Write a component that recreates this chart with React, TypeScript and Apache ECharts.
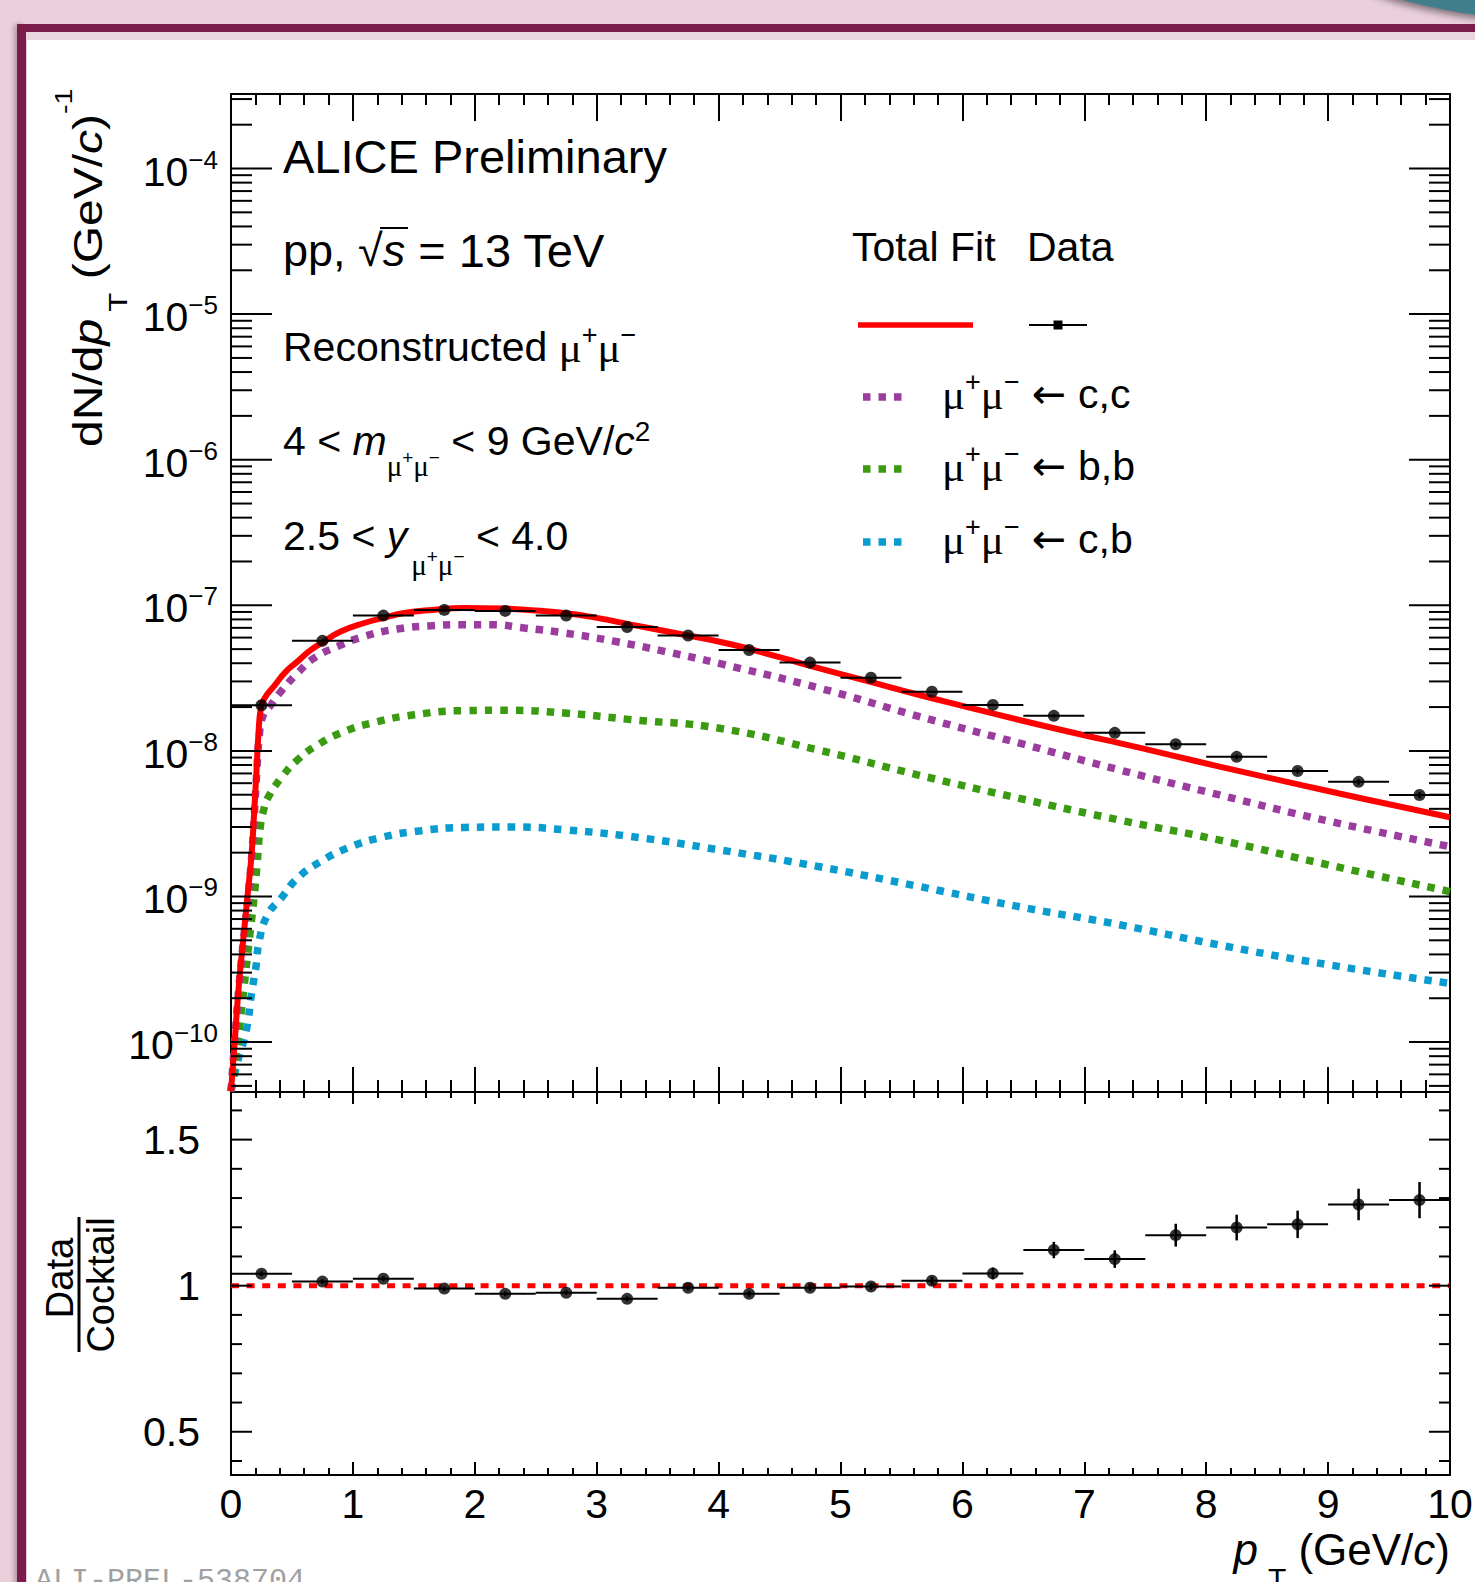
import React, { useEffect, useRef } from 'react';
import * as echarts from 'echarts';

const FONT = "'Liberation Sans', Arial, Helvetica, sans-serif";
const SERIF = "'Liberation Serif', 'DejaVu Serif', serif";
const ARROWFONT = "'DejaVu Sans', sans-serif";

// ---------------- data ----------------
const binCenters = [0.25, 0.75, 1.25, 1.75, 2.25, 2.75, 3.25, 3.75, 4.25, 4.75, 5.25, 5.75, 6.25, 6.75, 7.25, 7.75, 8.25, 8.75, 9.25, 9.75];
const binHalfWidths = [0.25, 0.25, 0.25, 0.25, 0.25, 0.25, 0.25, 0.25, 0.25, 0.25, 0.25, 0.25, 0.25, 0.25, 0.25, 0.25, 0.25, 0.25, 0.25, 0.25];
const dataYield = [2.06e-8, 5.7e-8, 8.5e-8, 9.3e-8, 9.15e-8, 8.5e-8, 7.1e-8, 6.2e-8, 4.93e-8, 4.04e-8, 3.18e-8, 2.55e-8, 2.07e-8, 1.74e-8, 1.33e-8, 1.11e-8, 9.1e-9, 7.28e-9, 6.13e-9, 4.98e-9];
const dataYieldErr = [4e-10, 6e-10, 8e-10, 8e-10, 8e-10, 8e-10, 7e-10, 6e-10, 5e-10, 4e-10, 3.5e-10, 3e-10, 4e-10, 4.5e-10, 4e-10, 4e-10, 3.3e-10, 2.8e-10, 2.6e-10, 2.4e-10];

const ratioValues = [1.041, 1.014, 1.024, 0.99, 0.972, 0.976, 0.955, 0.993, 0.972, 0.993, 0.997, 1.017, 1.042, 1.122, 1.091, 1.173, 1.199, 1.21, 1.278, 1.293];
const ratioErr = [0.008, 0.008, 0.008, 0.008, 0.008, 0.008, 0.008, 0.009, 0.01, 0.011, 0.012, 0.014, 0.02, 0.028, 0.03, 0.039, 0.044, 0.047, 0.054, 0.062];

const totalFitX = [0, 0.03, 0.065, 0.1, 0.14, 0.17, 0.19, 0.21, 0.225, 0.245, 0.275, 0.355, 0.45, 0.547, 0.65, 0.766, 0.9, 1.094, 1.25, 1.422, 1.65, 1.914, 2.242, 2.5, 2.734, 3.0, 3.281, 3.6, 4.1, 4.5, 4.827, 5.2, 5.648, 6.0, 6.468, 7.0, 7.288, 7.7, 8.109, 8.6, 9.0, 9.5, 10];
const totalFitY = [4.6e-11, 1e-10, 2.5e-10, 5e-10, 1.1e-9, 2e-9, 3.8e-9, 7.5e-9, 1.3e-8, 1.97e-8, 2.3e-8, 2.8e-8, 3.5e-8, 4.12e-8, 4.9e-8, 5.66e-8, 6.6e-8, 7.56e-8, 8.2e-8, 8.86e-8, 9.3e-8, 9.59e-8, 9.49e-8, 9.2e-8, 8.86e-8, 8.2e-8, 7.37e-8, 6.55e-8, 5.4e-8, 4.4e-8, 3.69e-8, 3.05e-8, 2.42e-8, 2.04e-8, 1.63e-8, 1.28e-8, 1.13e-8, 9.4e-9, 7.8e-9, 6.3e-9, 5.3e-9, 4.3e-9, 3.5e-9];

const ccX = [0, 0.03, 0.065, 0.1, 0.14, 0.17, 0.19, 0.21, 0.232, 0.26, 0.328, 0.41, 0.547, 0.684, 0.875, 1.094, 1.367, 1.641, 1.914, 2.133, 2.406, 2.734, 3.145, 3.555, 4.047, 4.827, 5.648, 6.468, 7.288, 8.109, 9.0, 10];
const ccY = [4.6e-11, 1e-10, 2.4e-10, 4.8e-10, 1e-9, 1.9e-9, 3.5e-9, 6.8e-9, 1.26e-8, 1.72e-8, 2.07e-8, 2.56e-8, 3.43e-8, 4.35e-8, 5.22e-8, 6.12e-8, 6.88e-8, 7.24e-8, 7.36e-8, 7.36e-8, 6.98e-8, 6.46e-8, 5.66e-8, 4.83e-8, 3.91e-8, 2.7e-8, 1.72e-8, 1.13e-8, 7.4e-9, 4.98e-9, 3.3e-9, 2.2e-9];

const bbX = [0, 0.04, 0.08, 0.12, 0.16, 0.19, 0.215, 0.24, 0.27, 0.301, 0.41, 0.547, 0.711, 0.902, 1.148, 1.504, 1.914, 2.27, 2.734, 3.281, 4.007, 4.827, 5.648, 6.468, 7.288, 8.109, 9.0, 10];
const bbY = [4.6e-11, 8e-11, 1.5e-10, 3e-10, 6e-10, 1e-9, 1.7e-9, 3e-9, 4e-9, 4.74e-9, 6.5e-9, 8.7e-9, 1.1e-8, 1.33e-8, 1.55e-8, 1.77e-8, 1.89e-8, 1.9e-8, 1.82e-8, 1.64e-8, 1.43e-8, 1.01e-8, 6.8e-9, 4.72e-9, 3.35e-9, 2.44e-9, 1.65e-9, 1.08e-9];

const cbX = [0, 0.055, 0.125, 0.17, 0.205, 0.232, 0.301, 0.41, 0.547, 0.738, 0.957, 1.23, 1.559, 1.914, 2.324, 2.734, 3.281, 4.007, 4.827, 5.648, 6.468, 7.288, 8.109, 9.0, 10];
const cbY = [4.6e-11, 7.4e-11, 1.2e-10, 2.2e-10, 3.3e-10, 5e-10, 7.5e-10, 9.7e-10, 1.34e-9, 1.74e-9, 2.15e-9, 2.54e-9, 2.83e-9, 2.98e-9, 3.0e-9, 2.87e-9, 2.58e-9, 2.09e-9, 1.6e-9, 1.17e-9, 8.5e-10, 6.4e-10, 4.64e-10, 3.4e-10, 2.53e-10];

const refLineX = [0, 10];
const refLineY = [1, 1];

// ticks
const Y_MIN = 4.54e-11;
const Y_MAX = 3.25e-4;
const R_MIN = 0.352;
const R_MAX = 1.663;
const yDecades = [1e-11, 1e-10, 1e-9, 1e-8, 1e-7, 1e-6, 1e-5, 1e-4];
const yMajorTicks = [1e-10, 1e-9, 1e-8, 1e-7, 1e-6, 1e-5, 1e-4];
const yMinorMultipliers = [2, 3, 4, 5, 6, 7, 8, 9];
const ratioMajorTicks = [0.5, 1, 1.5];
const ratioMinorTicks = [0.4, 0.6, 0.7, 0.8, 0.9, 1.1, 1.2, 1.3, 1.4, 1.6];

const COLORS = { total: '#ff0000', cc: '#9b3c9f', bb: '#3a9a12', cb: '#0a9bcf' };
const DOT: number[] = [7.5, 8];

// ---------------- helpers ----------------
const yMinorTicks = yDecades
  .flatMap((d) => yMinorMultipliers.map((m) => d * m))
  .filter((v) => v > Y_MIN && v < Y_MAX);

function tickSeries(xi: number, yi: number, majors: number[], minors: number[], majorLen: number, minorLen: number) {
  const data = [...majors.map((v) => [0, v, 1]), ...minors.map((v) => [0, v, 0])];
  return {
    type: 'custom',
    xAxisIndex: xi,
    yAxisIndex: yi,
    data,
    encode: { x: 0, y: 1 },
    silent: true,
    z: 8,
    renderItem: (_p: any, api: any) => {
      const v = api.value(1);
      const len = api.value(2) === 1 ? majorLen : minorLen;
      const l = api.coord([0, v]);
      const r = api.coord([10, v]);
      return {
        type: 'group',
        children: [
          { type: 'line', shape: { x1: l[0], y1: l[1], x2: l[0] + len, y2: l[1] }, style: { stroke: '#000', lineWidth: 2 } },
          { type: 'line', shape: { x1: r[0] - len, y1: r[1], x2: r[0], y2: r[1] }, style: { stroke: '#000', lineWidth: 2 } },
        ],
      };
    },
  };
}

const tok = (fs: number, L: number, italic = false, family = FONT, padL = 0, padR = 0) => ({
  fontSize: fs,
  fontFamily: family,
  fontStyle: italic ? 'italic' : 'normal',
  lineHeight: L,
  verticalAlign: 'middle',
  padding: [0, padR, 0, padL],
});
const supTok = (fs: number, L: number, pad: number, family = FONT, padL = 0) => ({
  fontSize: fs,
  fontFamily: family,
  fontStyle: 'normal',
  lineHeight: L,
  verticalAlign: 'top',
  padding: [pad, 0, 0, padL],
});

function txt(x: number, y: number, text: string, rich: any, fs: number, L: number, opts: any = {}) {
  return {
    type: 'text',
    x,
    y,
    rotation: opts.rotation || 0,
    scaleX: opts.scaleX || 1,
    scaleY: 1,
    z: 20,
    silent: true,
    style: {
      text,
      rich,
      fill: '#000',
      fontSize: fs,
      fontFamily: FONT,
      lineHeight: L,
      align: opts.align || 'left',
      verticalAlign: 'middle',
    },
  };
}

function curve(xs: number[], ys: number[], color: string, width: number, dash: any) {
  return {
    type: 'line',
    xAxisIndex: 0,
    yAxisIndex: 0,
    data: xs.map((x, i) => [x, ys[i]]),
    symbol: 'none',
    showSymbol: false,
    smooth: 0.5,
    clip: true,
    silent: true,
    z: 3,
    lineStyle: { color, width, type: dash, cap: 'butt' },
  };
}

function buildOption() {
  const axisLine = { show: true, onZero: false, lineStyle: { color: '#000', width: 2 } };
  const tickStyle = { color: '#000', width: 2 };
  const xAxisBase = (grid: number, pos: string, major: number, minor: number, labels: boolean) => ({
    type: 'value',
    gridIndex: grid,
    position: pos,
    min: 0,
    max: 10,
    interval: 1,
    axisLine,
    axisTick: { show: true, inside: true, length: major, lineStyle: tickStyle },
    minorTick: { show: true, splitNumber: 5, length: minor, lineStyle: tickStyle },
    splitLine: { show: false },
    minorSplitLine: { show: false },
    axisLabel: labels
      ? { show: true, fontSize: 41, fontFamily: FONT, color: '#000', margin: 8, interval: 0, showMinLabel: true, showMaxLabel: true }
      : { show: false },
  });
  const yAxisBase = (grid: number, pos: string, log: boolean) => ({
    type: log ? 'log' : 'value',
    logBase: 10,
    gridIndex: grid,
    position: pos,
    min: log ? Y_MIN : R_MIN,
    max: log ? Y_MAX : R_MAX,
    axisLine,
    axisTick: { show: false },
    minorTick: { show: false },
    axisLabel: { show: false },
    splitLine: { show: false },
  });

  const tickRich = { b: tok(41, 50), s: supTok(26, 50, 0) };

  const mainLabels = {
    type: 'custom',
    xAxisIndex: 0,
    yAxisIndex: 0,
    data: yMajorTicks.map((v) => [0, v]),
    encode: { x: 0, y: 1 },
    silent: true,
    z: 9,
    renderItem: (_p: any, api: any) => {
      const v = api.value(1);
      const p = api.coord([0, v]);
      const e = Math.round(Math.log10(v));
      const es = e < 0 ? '\u2212' + -e : String(e);
      return {
        type: 'text',
        x: p[0] - 13,
        y: p[1] + 3,
        style: { text: `{b|10}{s|${es}}`, rich: tickRich, fill: '#000', fontSize: 41, fontFamily: FONT, lineHeight: 50, align: 'right', verticalAlign: 'middle' },
      };
    },
  };
  const ratioLabels = {
    type: 'custom',
    xAxisIndex: 2,
    yAxisIndex: 2,
    data: ratioMajorTicks.map((v) => [0, v]),
    encode: { x: 0, y: 1 },
    silent: true,
    z: 9,
    renderItem: (_p: any, api: any) => {
      const v = api.value(1);
      const p = api.coord([0, v]);
      return {
        type: 'text',
        x: p[0] - 31,
        y: p[1],
        style: { text: String(v), fill: '#000', fontSize: 41, fontFamily: FONT, align: 'right', verticalAlign: 'middle' },
      };
    },
  };

  const errBars = (xi: number, yi: number, ys: number[], es: number[]) => ({
    type: 'custom',
    xAxisIndex: xi,
    yAxisIndex: yi,
    data: binCenters.map((x, i) => [x, ys[i], binHalfWidths[i], es[i]]),
    encode: { x: 0, y: 1 },
    silent: true,
    z: 6,
    renderItem: (_p: any, api: any) => {
      const x = api.value(0);
      const y = api.value(1);
      const hw = api.value(2);
      const e = api.value(3);
      const a = api.coord([x - hw, y]);
      const b = api.coord([x + hw, y]);
      const lo = api.coord([x, y - e]);
      const hi = api.coord([x, y + e]);
      return {
        type: 'group',
        children: [
          { type: 'line', shape: { x1: a[0], y1: a[1], x2: b[0], y2: b[1] }, style: { stroke: '#000', lineWidth: 2 } },
          { type: 'line', shape: { x1: lo[0], y1: lo[1], x2: hi[0], y2: hi[1] }, style: { stroke: '#000', lineWidth: 2.5 } },
        ],
      };
    },
  });

  const markers = (xi: number, yi: number, ys: number[]) => ({
    type: 'scatter',
    xAxisIndex: xi,
    yAxisIndex: yi,
    data: binCenters.map((x, i) => [x, ys[i]]),
    symbol: 'circle',
    symbolSize: 12,
    itemStyle: { color: '#000' },
    silent: true,
    z: 7,
  });

  // ---------- texts ----------
  const L = 80;
  const muRich = {
    n: tok(41, L),
    i: tok(41, L, true),
    mu: tok(43, L, false, SERIF),
    sp: supTok(27, L, 14),
    ar: tok(41, L, false, ARROWFONT, 12, 12),
  };
  const mRich = {
    n: tok(41, L),
    i: tok(41, L, true),
    sm: supTok(29, L, 50, SERIF),
    ss: supTok(19, L, 47),
    sp: supTok(28, L, 16),
  };
  const yRich = {
    n: tok(41, L),
    i: tok(41, L, true),
    sm0: supTok(29, L, 54, SERIF, 4),
    sm: supTok(29, L, 54, SERIF),
    ss: supTok(19, L, 51),
  };
  const ppRich = {
    n: tok(45, L),
    i: tok(45, L, true),
    r: tok(45, L),
    m: tok(47, L),
  };
  const yTitleRich = { n: tok(40, L), i: tok(40, L, true), sb: supTok(26, L, 57, FONT, 6), sp: supTok(24, L, 4) };
  const xTitleRich = { n: tok(44, L), i: tok(44, L, true), sb: supTok(30, L, 54, FONT, 10) };

  const graphics: any[] = [
    txt(283, 156, 'ALICE Preliminary', { n: tok(47, L) }, 47, L),
    txt(283, 250, '{n|pp, }{r|\u221A}{i|s}{m| = 13 TeV}', ppRich, 45, L),
    { type: 'line', z: 20, silent: true, shape: { x1: 380, y1: 228, x2: 408, y2: 228 }, style: { stroke: '#000', lineWidth: 2 } },
    txt(283, 347, '{n|Reconstructed }{mu|\u03BC}{sp|+}{mu|\u03BC}{sp|\u2212}', muRich, 41, L),
    txt(283, 441, '{n|4 < }{i|m}{sm|\u03BC}{ss|+}{sm|\u03BC}{ss|\u2212}{n| < 9 GeV/}{i|c}{sp|2}', mRich, 41, L),
    txt(283, 536, '{n|2.5 < }{i|y}{sm0|\u03BC}{ss|+}{sm|\u03BC}{ss|\u2212}{n| < 4.0}', yRich, 41, L),
    // legend
    txt(852, 247, 'Total Fit', { n: tok(41, L) }, 41, L),
    txt(1027, 247, 'Data', { n: tok(41, L) }, 41, L),
    { type: 'line', z: 20, silent: true, shape: { x1: 858, y1: 325, x2: 973, y2: 325 }, style: { stroke: COLORS.total, lineWidth: 5.5 } },
    { type: 'line', z: 20, silent: true, shape: { x1: 1029, y1: 325, x2: 1087, y2: 325 }, style: { stroke: '#000', lineWidth: 2 } },
    { type: 'rect', z: 21, silent: true, shape: { x: 1053.5, y: 320.5, width: 9, height: 9 }, style: { fill: '#000' } },
  ];
  const legendRows = [
    { y: 394, color: COLORS.cc, label: 'c,c' },
    { y: 466, color: COLORS.bb, label: 'b,b' },
    { y: 539, color: COLORS.cb, label: 'c,b' },
  ];
  legendRows.forEach((r) => {
    graphics.push({
      type: 'line',
      z: 20,
      silent: true,
      shape: { x1: 863, y1: r.y + 3, x2: 903, y2: r.y + 3 },
      style: { stroke: r.color, lineWidth: 7.5, lineDash: DOT },
    });
    graphics.push(txt(942, r.y, `{mu|\u03BC}{sp|+}{mu|\u03BC}{sp|\u2212}{ar|\u2190}{n|${r.label}}`, muRich, 41, L));
  });
  // axis titles
  graphics.push(
    txt(88, 447, '{n|dN/d}{i|p}{sb|T}{n| (GeV/}{i|c}{n|)}{sp|-1}', yTitleRich, 40, L, { rotation: Math.PI / 2, scaleX: 1.2 }),
    txt(1450, 1549, '{i|p}{sb|T}{n| (GeV/}{i|c}{n|)}', xTitleRich, 44, L, { align: 'right' }),
    txt(60, 1278, 'Data', { n: tok(38, 50) }, 38, 50, { rotation: Math.PI / 2, align: 'center' }),
    txt(101, 1285, 'Cocktail', { n: tok(38, 50) }, 38, 50, { rotation: Math.PI / 2, align: 'center' }),
    { type: 'line', z: 20, silent: true, shape: { x1: 79, y1: 1217, x2: 79, y2: 1352 }, style: { stroke: '#000', lineWidth: 3 } }
  );

  return {
    animation: false,
    backgroundColor: 'transparent',
    textStyle: { fontFamily: FONT },
    grid: [
      { left: 231, top: 94, width: 1219, height: 998, containLabel: false, outerBoundsMode: 'none' },
      { left: 231, top: 1092, width: 1219, height: 383, containLabel: false, outerBoundsMode: 'none' },
    ],
    xAxis: [
      xAxisBase(0, 'bottom', 25, 12, false),
      xAxisBase(0, 'top', 27, 11, false),
      xAxisBase(1, 'bottom', 13, 7, true),
      xAxisBase(1, 'top', 12, 6, false),
    ],
    yAxis: [yAxisBase(0, 'left', true), yAxisBase(0, 'right', true), yAxisBase(1, 'left', false), yAxisBase(1, 'right', false)],
    series: [
      curve(cbX, cbY, COLORS.cb, 7.5, DOT),
      curve(bbX, bbY, COLORS.bb, 7.5, DOT),
      curve(ccX, ccY, COLORS.cc, 7.5, DOT),
      curve(totalFitX, totalFitY, COLORS.total, 6, 'solid'),
      errBars(0, 0, dataYield, dataYieldErr),
      markers(0, 0, dataYield),
      {
        type: 'line',
        xAxisIndex: 2,
        yAxisIndex: 2,
        data: refLineX.map((x, i) => [x, refLineY[i]]),
        symbol: 'none',
        silent: true,
        z: 4,
        lineStyle: { color: COLORS.total, width: 5, type: [8, 7.6], cap: 'butt' },
      },
      errBars(2, 2, ratioValues, ratioErr),
      markers(2, 2, ratioValues),
      tickSeries(0, 0, yMajorTicks, yMinorTicks, 41, 21),
      tickSeries(2, 2, ratioMajorTicks, ratioMinorTicks, 21, 11),
      mainLabels,
      ratioLabels,
    ],
    graphic: { elements: graphics },
  };
}

export default function App() {
  const ref = useRef<HTMLDivElement>(null);
  useEffect(() => {
    if (!ref.current) return;
    const chart = echarts.init(ref.current, undefined, { renderer: 'svg' });
    chart.setOption(buildOption() as any);
    return () => chart.dispose();
  }, []);
  return (
    <div style={{ position: 'absolute', left: 0, top: 0, width: 1475, height: 1582, overflow: 'hidden', background: '#ebd0dc' }}>
      <div style={{ position: 'absolute', left: 1310, top: -160, width: 500, height: 180, borderRadius: '50%', background: '#3f7e8a', boxShadow: '-5px 3px 7px rgba(0,0,0,0.45)' }} />
      <div style={{ position: 'absolute', left: 17, top: 24, width: 1475, height: 8, background: '#7b1c4b' }} />
      <div style={{ position: 'absolute', left: 17, top: 24, width: 9, height: 1600, background: '#7b1c4b', boxShadow: '-3px 0 5px rgba(0,0,0,0.25)' }} />
      <div style={{ position: 'absolute', left: 26, top: 32, width: 1475, height: 8, background: '#ead4de' }} />
      <div style={{ position: 'absolute', left: 27, top: 40, width: 1475, height: 1600, background: '#ffffff' }} />
      <div style={{ position: 'absolute', left: 35, top: 1566, fontFamily: "'Liberation Mono', 'DejaVu Sans Mono', monospace", fontSize: 30, lineHeight: '30px', color: '#a0a0a0', whiteSpace: 'nowrap' }}>
        ALI-PREL-538704
      </div>
      <div ref={ref} style={{ position: 'absolute', left: 0, top: 0, width: 1475, height: 1582 }} />
    </div>
  );
}
